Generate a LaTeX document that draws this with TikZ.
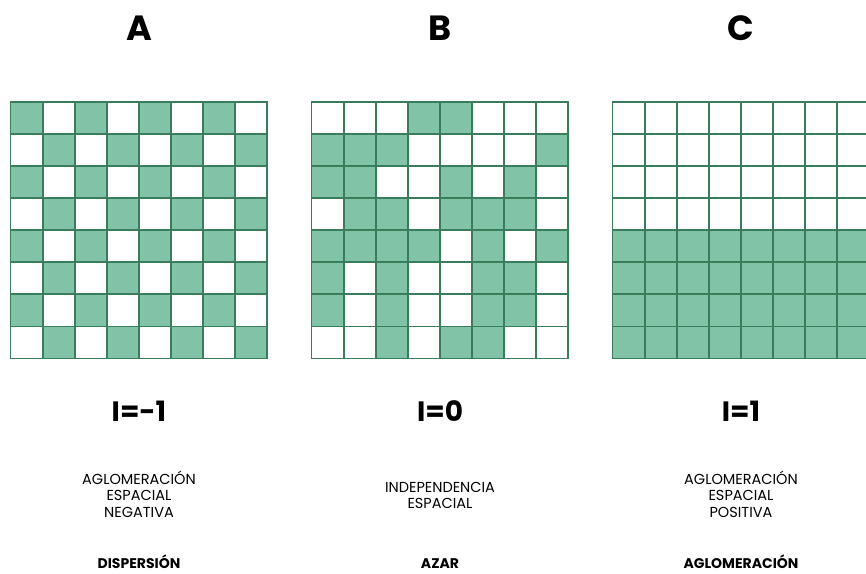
\documentclass[tikz,border=0pt]{standalone}
\usepackage{fontspec}
\setmainfont{Poppins}
\definecolor{gfill}{RGB}{128,195,166}
\definecolor{gline}{RGB}{58,125,90}
\begin{document}
\begin{tikzpicture}[x=1pt,y=-1pt,
  cellfill/.style={fill=gfill, draw=none},
  gridline/.style={draw=gline, line width=1.8pt, line cap=rect},
  head/.style={font=\bfseries\fontsize{35}{35}\selectfont, anchor=base, inner sep=0pt},
  idx/.style={font=\bfseries\fontsize{28}{28}\selectfont, anchor=base, inner sep=0pt},
  desc/.style={font=\fontsize{14.5}{14.5}\selectfont, anchor=base, inner sep=0pt},
  concl/.style={font=\bfseries\fontsize{14}{14}\selectfont, anchor=base, inner sep=0pt}]
\useasboundingbox (0,0) rectangle (866,573);
\clip (0,0) rectangle (866,573);
\def\cs{32.1}
\def\gy{101.7}
% Grid A: checkerboard
\foreach \c in {0,...,7}{
  \foreach \r in {0,...,7}{
    \pgfmathtruncatemacro{\pty}{mod(\c+\r,2)}
    \ifnum\pty=0
      \fill[gfill] ({10.5+\c*\cs},{\gy+\r*\cs}) rectangle ++(\cs,\cs);
    \fi
  }
}
% Grid B: random
\foreach \c/\r in {3/0,4/0, 0/1,1/1,2/1,7/1, 0/2,1/2,4/2,6/2, 1/3,2/3,4/3,5/3,6/3,
  0/4,1/4,2/4,3/4,5/4,7/4, 0/5,2/5,5/5,6/5, 0/6,2/6,5/6,6/6, 2/7,4/7,5/7}{
  \fill[gfill] ({311.5+\c*\cs},{\gy+\r*\cs}) rectangle ++(\cs,\cs);
}
% Grid C: bottom half
\fill[gfill] (612.5,{\gy+4*\cs}) rectangle ++({8*\cs},{4*\cs});
% grid lines
\foreach \gx in {10.5,311.5,612.5}{
  \foreach \i in {0,...,8}{
    \draw[gridline] ({\gx+\i*\cs},\gy) -- ++(0,{8*\cs});
    \draw[gridline] (\gx,{\gy+\i*\cs}) -- ++({8*\cs},0);
  }
}
% headings
\node[head] (hA) at (139,40) {A};
\node[head] (hB) at (440,40) {B};
\node[head] (hC) at (741,40) {C};
% indices
\node[idx] (iA) at (139,421.5) {I=-1};
\node[idx] (iB) at (440,421.5) {I=0};
\node[idx] (iC) at (741,421.5) {I=1};
% descriptions
\node[desc] (dA1) at (139,484) {AGLOMERACIÓN};
\node[desc] (dA2) at (139,500.5) {ESPACIAL};
\node[desc] (dA3) at (139,517) {NEGATIVA};
\node[desc] (dB1) at (440,492) {INDEPENDENCIA};
\node[desc] (dB2) at (440,508.5) {ESPACIAL};
\node[desc] (dC1) at (741,484) {AGLOMERACIÓN};
\node[desc] (dC2) at (741,500.5) {ESPACIAL};
\node[desc] (dC3) at (741,517) {POSITIVA};
% conclusions
\node[concl] (cA) at (139,568) {DISPERSIÓN};
\node[concl] (cB) at (440,568) {AZAR};
\node[concl] (cC) at (741,568) {AGLOMERACIÓN};
\end{tikzpicture}
\end{document}
